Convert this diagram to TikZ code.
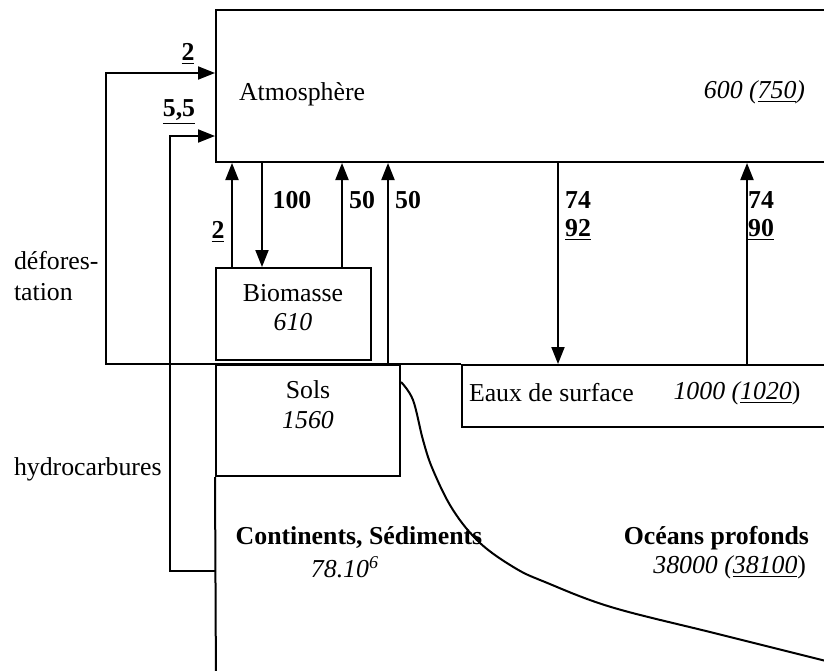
\documentclass[tikz,border=0pt]{standalone}
\usepackage{fontspec}
\setmainfont{Liberation Serif}
\usepackage{tikz}
\usetikzlibrary{arrows.meta,positioning,fit}

\begin{document}
\begin{tikzpicture}[x=0.5pt, y=-0.5pt, line width=1pt,
    every node/.style={font=\fontsize{12.9}{15.5}\selectfont, inner sep=0pt},
    boite/.style={draw, inner sep=0pt},
    flux/.style={font=\fontsize{12.9}{15.5}\selectfont\bfseries},
    fleche/.style={-{Triangle[length=8.5pt, width=6.5pt]}}]
    \useasboundingbox (0,0) rectangle (824,670);
    \clip (0,0) rectangle (824,670);

    % reservoirs
    \node[boite, fit={(216,10) (850,162)}] (atmo) {};
    \node[boite, fit={(216,268) (371,360)}] (biomasse) {};
    \node[boite, fit={(216,365) (400,476)}] (sols) {};
    \node[boite, fit={(462,365) (850,427)}] (eaux) {};

    \node[anchor=west] (atmotxt) at (238,94) {Atmosphère};
    \node[anchor=east] (atmoval) at (806,92) {\itshape 600 (\underline{750})};
    \node (biotxt) at (293,293) {Biomasse};
    \node (bioval) at (293,322) {\itshape 610};
    \node (solstxt) at (308,390) {Sols};
    \node (solsval) at (308,420) {\itshape 1560};
    \node[anchor=west] (eauxtxt) at (468,393) {Eaux de surface};
    \node (eauxval) at (737,393) {\itshape 1000 (\underline{1020}\upshape)};
    \node[flux] (conttxt) at (359,538) {Continents, Sédiments};
    \node (contval) at (345,567) {\itshape 78.10\textsuperscript{6}};
    \node[flux, anchor=east] (oceantxt) at (810,538) {Océans profonds};
    \node[anchor=east] (oceanval) at (807,567) {\itshape 38000 (\underline{38100}\upshape)};

    \node[anchor=west, align=left] (defotxt) at (13,276) {défores-\\tation};
    \node[anchor=west] (hydrotxt) at (13,469) {hydrocarbures};

    % flux (Gt C / an)
    \coordinate (p2) at (232,0);
    \coordinate (p100) at (262,0);
    \coordinate (p50a) at (342,0);
    \coordinate (p50b) at (388,0);
    \coordinate (p74a) at (558,0);
    \coordinate (p74b) at (747,0);
    \coordinate (defo) at (106,73);
    \coordinate (hydro) at (170,136);
    \coordinate (hydrob) at (216,571);
    \coordinate (cbas) at (216,690);

    \draw[fleche] (p2 |- biomasse.north) -- (p2 |- atmo.south);
    \draw[fleche] (p100 |- atmo.south) -- (p100 |- biomasse.north);
    \draw[fleche] (p50a |- biomasse.north) -- (p50a |- atmo.south);
    \draw[fleche] (p50b |- sols.north) -- (p50b |- atmo.south);
    \draw[fleche] (p74a |- atmo.south) -- (p74a |- eaux.north);
    \draw[fleche] (p74b |- eaux.north) -- (p74b |- atmo.south);
    \draw[fleche] (eaux.north west) -- (defo |- sols.north) -- (defo) -- (defo -| atmo.west);
    \draw[fleche] (hydrob) -- (hydro |- hydrob) -- (hydro) -- (hydro -| atmo.west);
    \draw (sols.south west) -- (cbas);

    \node[flux] (f2) at (188,54) {\underline{2}};
    \node[flux] (f55) at (179,112) {\underline{5,5}};
    \node[flux] (f2b) at (218,232) {\underline{2}};
    \node[flux] (f100) at (292,200) {100};
    \node[flux] (f50a) at (362,200) {50};
    \node[flux] (f50b) at (408,200) {50};
    \node[flux] (f74a) at (578,200) {74};
    \node[flux] (f92) at (578,230) {\underline{92}};
    \node[flux] (f74b) at (761,200) {74};
    \node[flux] (f90) at (761,230) {\underline{90}};

    % limite continents / oceans
    \draw plot[smooth, tension=0.6] coordinates {(401,382) (413,400) (423,440) (433,470) (453,510) (480,543) (515,568) (545,582) (611,607) (714,633) (830,662)};
\end{tikzpicture}
\end{document}
